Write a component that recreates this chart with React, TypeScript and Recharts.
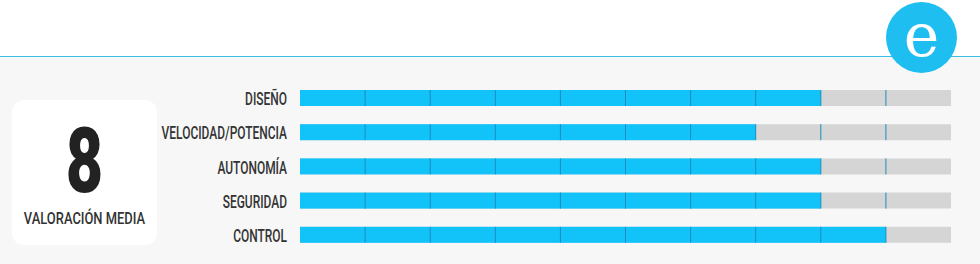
import React from "react";
import { BarChart, Bar, XAxis, YAxis } from "recharts";

const categories = ["DISEÑO", "VELOCIDAD/POTENCIA", "AUTONOMÍA", "SEGURIDAD", "CONTROL"];
const scores = [8, 7, 8, 8, 9];
const maxScore = 10;
const averageLabel = "8";
const averageCaption = "VALORACIÓN MEDIA";
const logoLetter = "e";

const data = categories.map((name, i) => ({ name, value: scores[i] }));

const BLUE = "#12c3fa";
const DIVIDER = "#1a8cc0";
const GRAY = "#d5d5d5";
const FONT = "Roboto, 'Noto Sans', sans-serif";

const SegmentedBar = (props: any) => {
  const { x, y, width, height, value, background } = props;
  const v = Array.isArray(value) ? value[1] - value[0] : value;
  const unit = v ? width / v : 0;
  const lines = [];
  for (let k = 1; k < maxScore; k++) {
    const lx = x + k * unit;
    if (background && lx >= background.x + background.width - 0.5) continue;
    lines.push(
      <line key={k} x1={lx} x2={lx} y1={y} y2={y + height} stroke={DIVIDER} strokeWidth={1} />
    );
  }
  return (
    <g>
      <rect x={x} y={y} width={width} height={height} fill={BLUE} />
      {lines}
    </g>
  );
};

const Tick = (props: any) => {
  const { x, y, payload } = props;
  return (
    <g transform={`translate(${x},${y}) scale(0.665,1)`}>
      <text x={0} y={0} dy={7} textAnchor="end" fill="#333" fontFamily={FONT} fontWeight={500} fontSize={18}>
        {payload.value}
      </text>
    </g>
  );
};

export default function App() {
  return (
    <div style={{ position: "absolute", left: 0, top: 0, width: 980, height: 264, overflow: "hidden", background: "#f7f7f7" }}>
      <div style={{ position: "absolute", left: 0, top: 0, width: 980, height: 56, background: "#ffffff", borderBottom: "1.5px solid #3bbde6" }} />
      <div style={{ position: "absolute", left: 0, top: 0 }}>
        <BarChart
          width={980}
          height={264}
          data={data}
          layout="vertical"
          margin={{ top: 81, right: 29, bottom: 12, left: 0 }}
          barSize={16}
        >
          <XAxis type="number" domain={[0, maxScore]} hide />
          <YAxis
            type="category"
            dataKey="name"
            width={300}
            axisLine={false}
            tickLine={false}
            tickSize={0}
            tickMargin={13}
            tick={<Tick />}
          />
          <Bar dataKey="value" background={{ fill: GRAY }} shape={<SegmentedBar />} isAnimationActive={false} />
        </BarChart>
      </div>
      <div
        style={{
          position: "absolute",
          left: 12,
          top: 100,
          width: 145,
          height: 145,
          background: "#ffffff",
          borderRadius: 12,
          fontFamily: FONT,
          color: "#222",
          textAlign: "center",
          whiteSpace: "nowrap",
        }}
      >
        <div style={{ position: "absolute", left: 0, right: 0, top: 21, fontSize: 91, fontWeight: 900, lineHeight: "80px", transform: "scaleX(0.71)" }}>
          {averageLabel}
        </div>
        <div style={{ position: "absolute", left: -20, right: -20, top: 107, fontSize: 17, fontWeight: 500, lineHeight: "22px", transform: "scaleX(0.76)", color: "#333" }}>
          {averageCaption}
        </div>
      </div>
      <div
        style={{
          position: "absolute",
          left: 886,
          top: 2,
          width: 71,
          height: 71,
          borderRadius: "50%",
          background: "#1ebff0",
          color: "#fff",
          fontFamily: "'DejaVu Serif', 'Liberation Serif', serif",
          fontSize: 60,
          lineHeight: "66px",
          textAlign: "center",
        }}
      >
        {logoLetter}
      </div>
    </div>
  );
}
